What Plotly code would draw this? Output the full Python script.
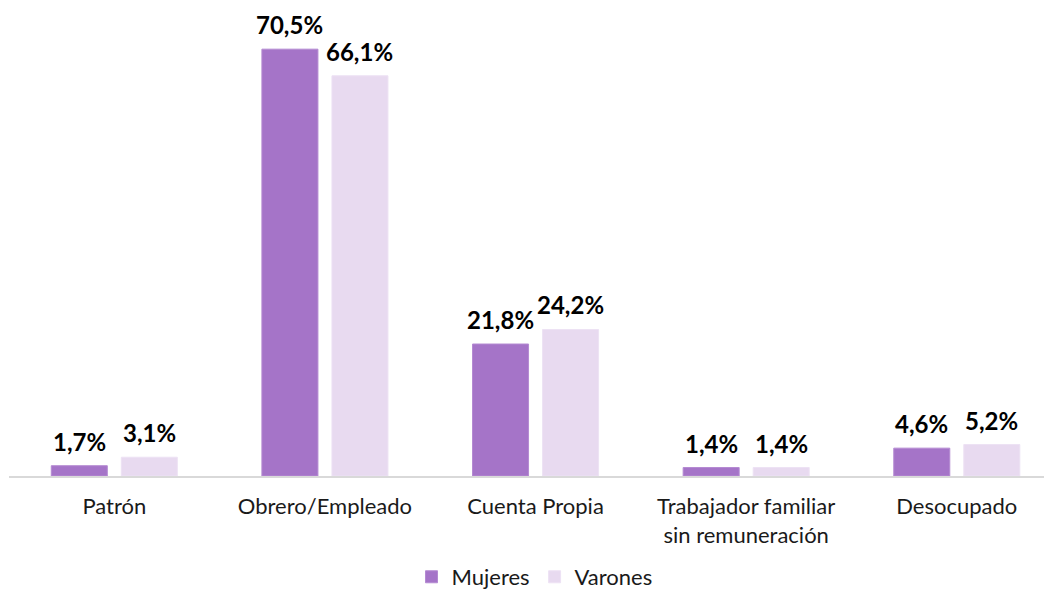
import plotly.graph_objects as go

categorias = ["Patrón", "Obrero/Empleado", "Cuenta Propia",
              "Trabajador familiar<br>sin remuneración", "Desocupado"]
mujeres = [1.7, 70.5, 21.8, 1.4, 4.6]
varones = [3.1, 66.1, 24.2, 1.4, 5.2]


def etiqueta(v):
    return f"{v:.1f}%".replace(".", ",")


fig = go.Figure()

fig.add_trace(go.Bar(
    x=categorias, y=mujeres, name="Mujeres",
    marker=dict(color="#A574C8", line=dict(color="#B48AD2", width=1)),
))
fig.add_trace(go.Bar(
    x=categorias, y=varones, name="Varones",
    marker=dict(color="#E8DAF0", line=dict(color="#EDE2F4", width=1)),
))

# etiquetas de datos sobre cada barra
for serie, desplazamiento in [(mujeres, -35), (varones, 35)]:
    for cat, v in zip(categorias, serie):
        fig.add_annotation(
            x=cat, y=v, text=etiqueta(v), showarrow=False,
            xshift=desplazamiento, yshift=9, yanchor="bottom", borderpad=0,
            font=dict(family="Lato", size=24, color="black", weight="bold"),
        )

fig.update_layout(
    width=1052, height=589,
    barmode="group", bargap=0.335, bargroupgap=0.2,
    margin=dict(l=1, r=0, t=0, b=121),
    plot_bgcolor="white", paper_bgcolor="white",
    font=dict(family="Lato", size=22, color="#1a1a1a"),
    showlegend=True,
    legend=dict(orientation="h", x=0.5, xanchor="center",
                yref="container", y=0.034, yanchor="middle",
                font=dict(size=22), traceorder="normal"),
    xaxis=dict(range=[-0.5, 4.49], showline=True, linecolor="#D9D9D9", linewidth=2,
               ticks="outside", ticklen=10, tickcolor="rgba(0,0,0,0)"),
    yaxis=dict(range=[0, 77.3], visible=False, showgrid=False, zeroline=False),
)

fig.write_html("out.html")
